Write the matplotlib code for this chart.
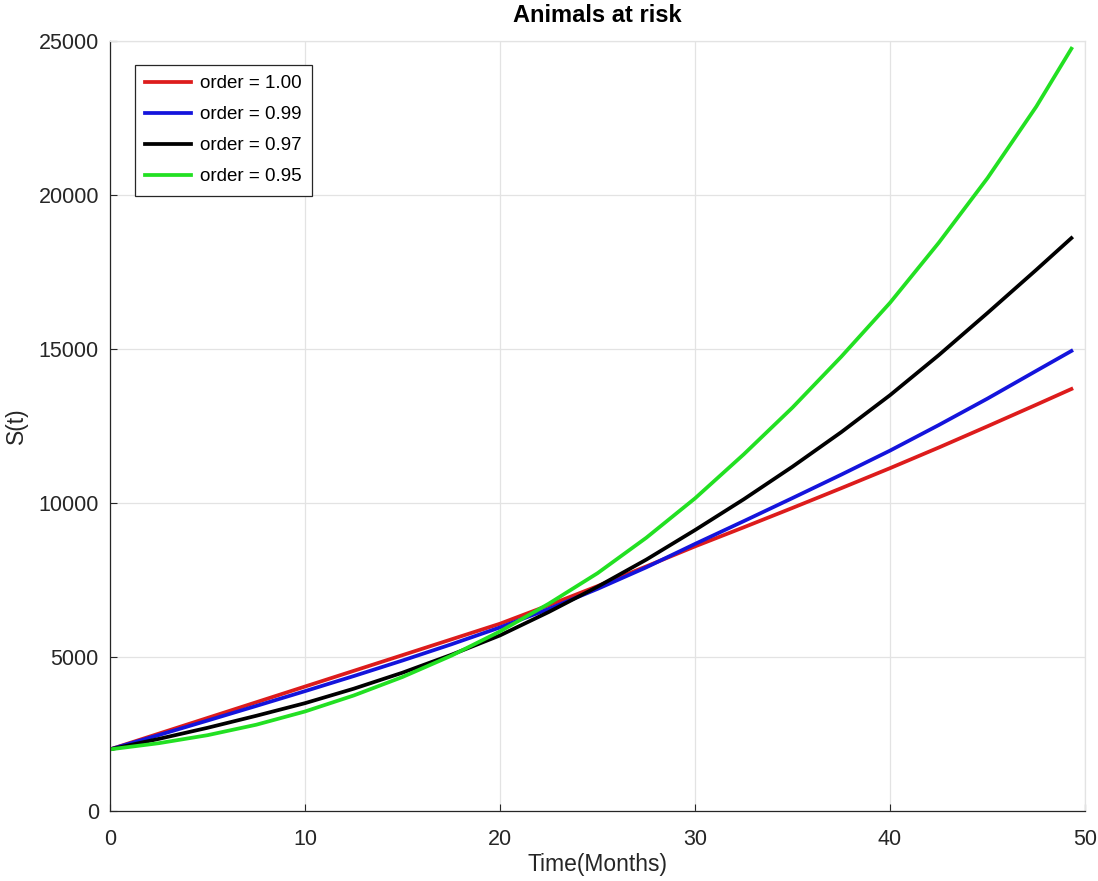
import matplotlib
matplotlib.use("Agg")
import matplotlib.pyplot as plt

# Values (months vs S(t)).
months = [0, 2.5, 5, 7.5, 10, 12.5, 15, 17.5, 20, 22.5, 25, 27.5, 30,
          32.5, 35, 37.5, 40, 42.5, 45, 47.5, 49.3]
s_100 = [2000, 2510, 3020, 3530, 4040, 4550, 5060, 5570, 6080, 6680, 7300,
         7940, 8590, 9210, 9840, 10480, 11130, 11800, 12490, 13190, 13700]
s_099 = [2000, 2465, 2935, 3410, 3890, 4380, 4885, 5410, 5960, 6560, 7210,
         7910, 8670, 9410, 10160, 10920, 11700, 12530, 13390, 14290, 14935]
s_097 = [2000, 2340, 2700, 3090, 3500, 3970, 4490, 5070, 5700, 6460, 7280,
         8160, 9120, 10120, 11180, 12300, 13500, 14800, 16170, 17570, 18600]
s_095 = [2000, 2200, 2460, 2800, 3230, 3750, 4350, 5040, 5830, 6730, 7720,
         8870, 10150, 11580, 13100, 14750, 16500, 18450, 20550, 22870, 24750]

series = [s_100, s_099, s_097, s_095]
labels = ["order = 1.00", "order = 0.99", "order = 0.97", "order = 0.95"]
colors = ["#dd1c1c", "#1414dc", "#000000", "#22e022"]

plt.rcParams["font.family"] = ["Liberation Sans", "DejaVu Sans"]
INK = "#262626"

fig = plt.figure(figsize=(10.98, 8.81), dpi=100)
ax = fig.add_axes([0.1002, 0.0795, 0.8880, 0.874])

for ys, lab, col in zip(series, labels, colors):
    ax.plot(months, ys, color=col, lw=2.7, label=lab)

ax.set_xlim(0, 50)
ax.set_ylim(0, 25000)
ax.set_xticks(range(0, 51, 10))
ax.set_yticks(range(0, 25001, 5000))
ax.grid(True, color="#e3e3e3", lw=0.9)
ax.set_axisbelow(True)
ax.tick_params(direction="in", length=5, labelsize=15.5, colors=INK,
               top=False, right=False)
ax.tick_params(axis="y", pad=8)
ax.tick_params(axis="x", pad=13)
for side in ("left", "bottom"):
    ax.spines[side].set_color(INK)
    ax.spines[side].set_linewidth(0.9)
for side in ("top", "right"):
    ax.spines[side].set_color("#e3e3e3")
    ax.spines[side].set_linewidth(0.9)

ax.set_xlabel("Time(Months)", fontsize=16.5, color=INK, labelpad=2)
ax.set_ylabel("S(t)", fontsize=16.5, color=INK)
ax.yaxis.set_label_coords(-0.084, 0.5)
ax.set_title("Animals at risk", fontsize=17, fontweight="bold", pad=14)

leg = ax.legend(loc="upper left", bbox_to_anchor=(0.0256, 0.969),
                borderaxespad=0, fontsize=13.5, handlelength=2.45,
                handletextpad=0.45, labelspacing=0.74, borderpad=0.55,
                fancybox=False, framealpha=1)
leg.get_frame().set_edgecolor(INK)
leg.get_frame().set_linewidth(0.9)

fig.savefig("out.png", dpi=100)
